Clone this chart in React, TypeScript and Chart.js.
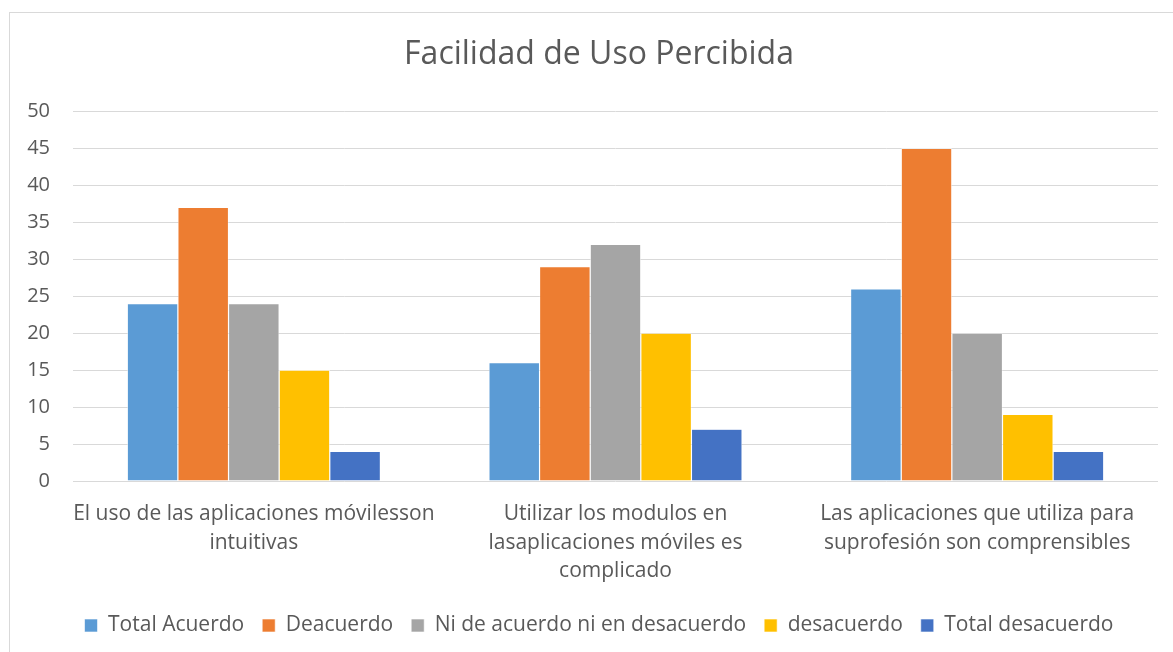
import React, { useEffect, useRef } from "react";
import { Chart, registerables } from "chart.js";

Chart.register(...registerables);

const title = "Facilidad de Uso Percibida";
const categories: string[][] = [
  ["El uso de las aplicaciones móvilesson", "intuitivas"],
  ["Utilizar los modulos en", "lasaplicaciones móviles es", "complicado"],
  ["Las aplicaciones que utiliza para", "suprofesión son comprensibles"],
];
const seriesNames = [
  "Total Acuerdo",
  "Deacuerdo",
  "Ni de acuerdo ni en desacuerdo",
  "desacuerdo",
  "Total desacuerdo",
];
const totalAcuerdo = [24, 16, 26];
const deacuerdo = [37, 29, 45];
const niAcuerdo = [24, 32, 20];
const desacuerdo = [15, 20, 9];
const totalDesacuerdo = [4, 7, 4];
const seriesColors = ["#5B9BD5", "#ED7D31", "#A5A5A5", "#FFC000", "#4472C4"];
const yTicks = { min: 0, max: 50, step: 5 };

const FONT = "'Open Sans', 'Noto Sans', sans-serif";
const TEXT = "#595959";

export default function App() {
  const ref = useRef<HTMLCanvasElement | null>(null);
  useEffect(() => {
    if (!ref.current) return;
    const values = [totalAcuerdo, deacuerdo, niAcuerdo, desacuerdo, totalDesacuerdo];
    const chart = new Chart(ref.current, {
      type: "bar",
      data: {
        labels: categories,
        datasets: seriesNames.map((name, i) => ({
          label: name,
          data: values[i],
          backgroundColor: seriesColors[i],
          borderColor: "#ffffff",
          borderWidth: 0.6,
          categoryPercentage: 0.7,
          barPercentage: 1,
        })),
      },
      options: {
        responsive: false,
        animation: false,
        layout: { padding: { left: 15, right: 0, top: 0, bottom: 6 } },
        plugins: {
          title: {
            display: true,
            text: title,
            color: TEXT,
            font: { family: FONT, size: 32, weight: "normal", lineHeight: 1.2 },
            padding: { top: 23, bottom: 37 },
          },
          legend: {
            position: "bottom",
            labels: {
              color: TEXT,
              font: { family: FONT, size: 21 },
              boxWidth: 13,
              boxHeight: 13,
              padding: 18,
            },
          },
          tooltip: { enabled: false },
        },
        scales: {
          x: {
            afterFit: (s: any) => {
              s.height = 116;
            },
            grid: { display: false, drawTicks: false },
            border: { display: false },
            ticks: {
              color: TEXT,
              font: { family: FONT, size: 21, lineHeight: 1.36 },
              padding: 19,
              maxRotation: 0,
              autoSkip: false,
            },
          },
          y: {
            min: yTicks.min,
            max: yTicks.max,
            afterFit: (s: any) => {
              s.width = 48;
            },
            grid: { color: "#D9D9D9", lineWidth: 1, drawTicks: false },
            border: { display: false },
            ticks: {
              stepSize: yTicks.step,
              color: TEXT,
              font: { family: FONT, size: 20 },
              padding: 23,
            },
          },
          spacer: {
            type: "linear",
            position: "right",
            display: true,
            afterFit: (s: any) => {
              s.width = 15;
            },
            grid: { display: false, drawTicks: false },
            border: { display: false },
            ticks: { display: false },
          },
        },
      },
    });
    return () => chart.destroy();
  }, []);
  return (
    <div
      style={{
        position: "absolute",
        left: 9,
        top: 12,
        width: 1163,
        height: 639,
        borderLeft: "1px solid #D9D9D9",
        borderTop: "1px solid #D9D9D9",
        background: "#fff",
      }}
    >
      <canvas ref={ref} width={1163} height={639} style={{ display: "block" }} />
    </div>
  );
}
